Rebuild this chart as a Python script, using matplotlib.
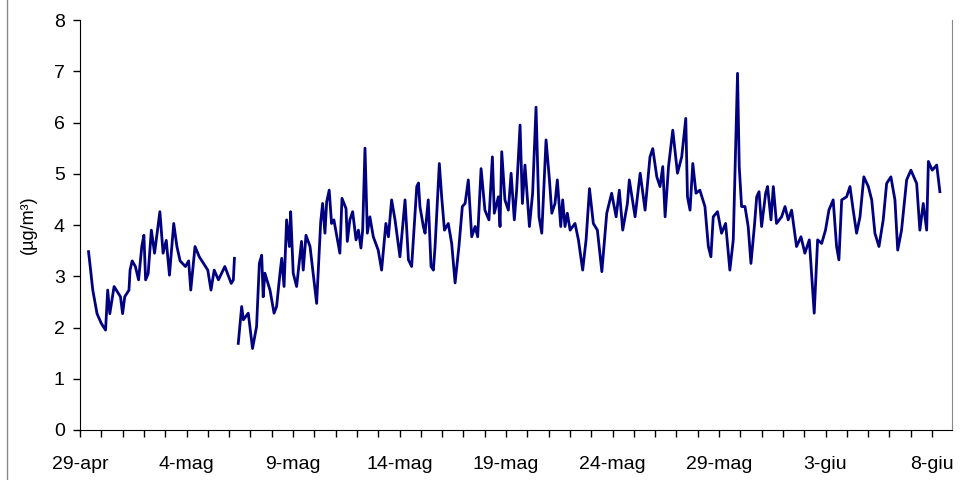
import matplotlib.pyplot as plt
import numpy as np

plt.rcParams['font.family'] = ['Liberation Sans', 'DejaVu Sans']

# time in days from 29-apr 00:00, value in ug/m3
t1 = [0.4, 0.45, 0.6, 0.8, 1.0, 1.2, 1.3, 1.4, 1.6, 1.9, 2.0, 2.1, 2.3, 2.35, 2.45, 2.6, 2.75,
      2.9, 3.0, 3.08, 3.2, 3.35, 3.5, 3.75, 3.9, 4.05, 4.2, 4.4, 4.55, 4.7, 4.95, 5.1, 5.2, 5.4,
      5.6, 5.8, 6.0, 6.15, 6.3, 6.5, 6.8, 7.1, 7.2, 7.25]
v1 = [3.48, 3.3, 2.73, 2.27, 2.08, 1.95, 2.73, 2.27, 2.8, 2.6, 2.27, 2.6, 2.73, 3.12, 3.3, 3.19, 2.93,
      3.58, 3.8, 2.93, 3.05, 3.9, 3.45, 4.26, 3.45, 3.7, 3.02, 4.03, 3.58, 3.3, 3.19, 3.3, 2.73, 3.58,
      3.38, 3.25, 3.12, 2.73, 3.12, 2.93, 3.19, 2.86, 2.93, 3.35]

t2 = [7.43, 7.59, 7.67, 7.90, 8.10, 8.29, 8.42, 8.53, 8.60, 8.68, 8.92, 9.11, 9.23, 9.39, 9.47, 9.58,
      9.70, 9.83, 9.89, 10.01, 10.17, 10.40, 10.48, 10.61, 10.80, 11.11, 11.30, 11.39, 11.50, 11.58,
      11.70, 11.81, 11.92, 12.20, 12.30, 12.49, 12.55, 12.67, 12.80, 12.96, 13.07, 13.19, 13.27, 13.38,
      13.49, 13.61, 13.77, 14.00, 14.16, 14.36,
      14.48, 14.63, 14.79, 15.02, 15.26, 15.42, 15.57, 15.65, 15.81, 15.89, 15.96, 16.12, 16.2, 16.35,
      16.48, 16.59, 16.67, 16.87, 16.98, 17.11, 17.29, 17.45, 17.61, 17.79, 17.95, 18.08, 18.23, 18.39,
      18.55, 18.67, 18.83, 19.01, 19.2, 19.36, 19.45, 19.64, 19.72, 19.8, 19.95, 20.11, 20.24, 20.39,
      20.5, 20.66, 20.77, 20.89, 21.1, 21.25, 21.41, 21.55, 21.68,
      21.88, 22.04, 22.15, 22.3, 22.41, 22.57, 22.66, 22.77, 22.88, 23.01, 23.24, 23.4, 23.6, 23.76,
      23.92, 24.1, 24.29, 24.5, 24.73, 24.96, 25.17, 25.32, 25.48, 25.7, 25.79, 26.06, 26.3, 26.53,
      26.76, 26.89, 27.08, 27.23, 27.36, 27.47, 27.63, 27.83, 28.05, 28.25, 28.44, 28.52, 28.64, 28.77,
      28.92, 29.1, 29.34, 29.5, 29.62, 29.73, 29.93, 30.12, 30.31, 30.51, 30.67, 30.87, 30.95, 31.06,
      31.22, 31.37, 31.5, 31.66, 31.77, 31.88, 32.0, 32.19, 32.28, 32.44, 32.55, 32.7, 32.94, 33.1,
      33.25, 33.41, 33.64, 33.85, 34.03, 34.24, 34.47, 34.63, 34.82, 35.0, 35.16, 35.36, 35.52, 35.63,
      35.76, 35.99, 36.15, 36.3, 36.46, 36.62, 36.8, 37.01, 37.17, 37.32, 37.51, 37.71, 37.87, 38.07,
      38.26, 38.39, 38.57, 38.81, 39.01, 39.28, 39.43, 39.59, 39.75, 39.83, 40.01, 40.22, 40.37]
v2 = [1.69, 2.41, 2.15, 2.28, 1.59, 2.02, 3.25, 3.41, 2.6, 3.06, 2.73, 2.28, 2.41, 3.06, 3.35, 2.8,
      4.1, 3.58, 4.26, 3.06, 2.8, 3.68, 3.12, 3.8, 3.58, 2.47, 4.06, 4.42, 3.84, 4.45,
      4.68, 4.03, 4.1, 3.45, 4.52, 4.32, 3.68, 4.1, 4.26, 3.71, 3.9, 3.55, 3.9, 5.5,
      3.84, 4.16, 3.77, 3.51, 3.12, 4.03,
      3.77, 4.49, 4.1, 3.38, 4.49, 3.32, 3.19, 3.71, 4.75, 4.82, 4.36, 3.97, 3.84, 4.49,
      3.19, 3.12, 3.58, 5.2, 4.55, 3.9, 4.03, 3.64, 2.87, 3.58, 4.36, 4.42, 4.88, 3.77,
      3.97, 3.77, 5.1, 4.29, 4.1, 5.33, 4.23, 4.55, 3.97, 5.43, 4.49, 4.29, 5.01, 4.1,
      4.68, 5.95, 4.42, 5.17, 3.97, 4.62, 6.3, 4.16, 3.84,
      5.66, 4.88, 4.23, 4.42, 4.88, 3.97, 4.49, 3.97, 4.23, 3.9, 4.03, 3.71, 3.12, 3.71,
      4.71, 4.03, 3.9, 3.09, 4.23, 4.62, 4.16, 4.68, 3.9, 4.42, 4.88, 4.16, 5.01, 4.29,
      5.33, 5.49, 4.94, 4.75, 5.14, 4.16, 5.14, 5.85, 5.01, 5.33, 6.08, 4.55, 4.29, 5.2,
      4.62, 4.68, 4.36, 3.58, 3.38, 4.16, 4.26, 3.84, 4.03, 3.12, 3.71, 6.96, 5.14, 4.36,
      4.36, 3.97, 3.25, 3.97, 4.55, 4.65, 3.97, 4.62, 4.75, 4.1, 4.75, 4.03, 4.16, 4.36,
      4.1, 4.29, 3.58, 3.77, 3.45, 3.71, 2.28, 3.71, 3.64, 3.9, 4.29, 4.49, 3.58, 3.32,
      4.49, 4.55, 4.75, 4.29, 3.84, 4.16, 4.94, 4.75, 4.49, 3.84, 3.58, 4.1, 4.81, 4.94,
      4.49, 3.51, 3.9, 4.88, 5.07, 4.81, 3.9, 4.42, 3.9, 5.24, 5.07, 5.17, 4.65]

tick_days = [0, 5, 10, 15, 20, 25, 30, 35, 40]
tick_labels = ['29-apr', '4-mag', '9-mag', '14-mag', '19-mag', '24-mag', '29-mag', '3-giu', '8-giu']

fig = plt.figure(figsize=(9.6, 4.8), dpi=100)
ax = fig.add_axes([80 / 960, 1 - 430 / 480, 872 / 960, 410 / 480])

t = t1 + [np.nan] + t2
v = v1 + [np.nan] + v2
ax.plot(t, v, color='#000080', linewidth=2)

ax.set_xlim(0, 872 / 21.3)
ax.set_ylim(0, 8)
ax.set_xticks(tick_days)
ax.set_xticklabels(tick_labels)
ax.set_xticks(np.arange(0, 41), minor=True)
ax.set_yticks(range(0, 9))
ax.tick_params(axis='both', labelsize=14, direction='out', length=5, width=1)
ax.tick_params(axis='x', which='minor', length=5, width=1)
ax.tick_params(axis='x', pad=14)
ax.tick_params(axis='y', pad=6)
ax.spines['top'].set_visible(False)
ax.spines['right'].set_color('#888888')
ax.set_ylabel('(µg/m³)', fontsize=13, labelpad=12)

# outer chart border
fig.add_artist(plt.Line2D([7 / 960, 7 / 960], [0, 1], color='#888888', linewidth=1, transform=fig.transFigure))

fig.savefig('out.png', dpi=100)
